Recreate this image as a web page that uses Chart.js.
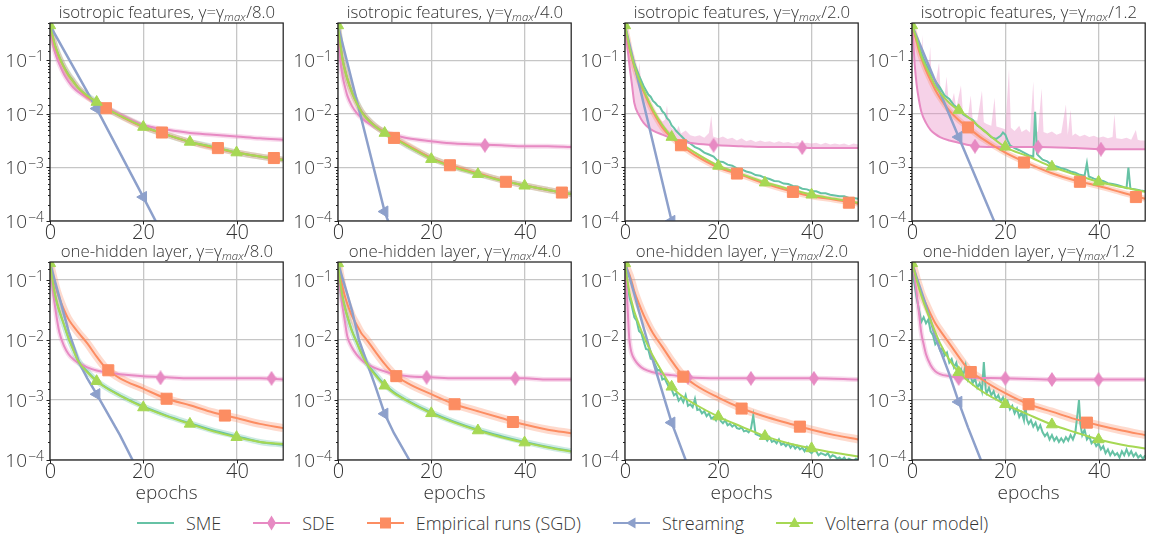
<!DOCTYPE html>
<html>
<head>
<meta charset="utf-8">
<script src="https://cdn.jsdelivr.net/npm/chart.js@4.4.1/dist/chart.umd.min.js"></script>
<style>
html, body { margin: 0; padding: 0; background: #fff; }
#fig { position: relative; width: 1154px; height: 538px; overflow: hidden; }
#fig canvas { position: absolute; }
#legend { position: absolute; left: 137px; top: 511px; height: 24px; display: flex; align-items: center;
  font: 300 18px "Open Sans", sans-serif; color: #333; white-space: nowrap; }
#legend .item { display: flex; align-items: center; margin-right: 32px; }
#legend svg { margin-right: 12px; }
</style>
</head>
<body>
<div id="fig">
  <div id="legend">
    <div class="item"><svg width="37" height="16"><line x1="0" y1="8" x2="37" y2="8" stroke="#66c2a5" stroke-width="2"/></svg><span>SME</span></div>
    <div class="item"><svg width="37" height="16"><line x1="0" y1="8" x2="37" y2="8" stroke="#e78ac3" stroke-width="2"/><polygon points="18.5,0.5 23,8 18.5,15.5 14,8" fill="#e78ac3"/></svg><span>SDE</span></div>
    <div class="item"><svg width="37" height="16"><line x1="0" y1="8" x2="37" y2="8" stroke="#fc8d62" stroke-width="2"/><rect x="13" y="2.5" width="11" height="11" fill="#fc8d62"/></svg><span>Empirical runs (SGD)</span></div>
    <div class="item"><svg width="37" height="16"><line x1="0" y1="8" x2="37" y2="8" stroke="#8da0cb" stroke-width="2"/><polygon points="13,8 22.5,2.5 22.5,13.5" fill="#8da0cb"/></svg><span>Streaming</span></div>
    <div class="item"><svg width="37" height="16"><line x1="0" y1="8" x2="37" y2="8" stroke="#a6d854" stroke-width="2"/><polygon points="18.5,2 24,12 13,12" fill="#a6d854"/></svg><span>Volterra (our model)</span></div>
  </div>
</div>
<script>
// ---------- data ----------
const EPOCHS = [0, 0.5, 1, 1.5, 2, 3, 4, 5, 6, 8, 10, 12, 15, 20, 25, 30, 35, 40, 45, 50];

// isotropic features, gamma = gamma_max / 8.0
const ISO8_VOLTERRA = [0.45,0.3,0.2,0.15,0.115,0.075,0.053,0.04,0.031,0.022,0.0167,0.0128,0.0093,0.0058,0.0041,0.003,0.0024,0.0019,0.0016,0.00138];
const ISO8_SGD      = [0.45,0.29,0.195,0.145,0.112,0.074,0.052,0.04,0.031,0.021,0.016,0.0127,0.0092,0.0057,0.0041,0.003,0.0023,0.0019,0.0016,0.0014];
const ISO8_SME      = [0.45,0.3,0.2,0.15,0.116,0.076,0.054,0.041,0.031,0.022,0.0166,0.0128,0.0093,0.0058,0.0041,0.003,0.0024,0.0019,0.0016,0.0014];
const ISO8_SDE      = [0.45,0.24,0.15,0.11,0.085,0.055,0.04,0.031,0.026,0.02,0.016,0.0133,0.0098,0.0062,0.0051,0.0044,0.0041,0.0038,0.0035,0.0033];
const ISO8_STREAM   = [[0,0.45],[10,0.0126],[20,0.00028],[25,0.00004]];
const ISO8_VOLTERRA_MARKS = [[0,0.45],[10,0.0167],[20,0.0057],[30,0.003],[40,0.0019]];
const ISO8_SGD_MARKS      = [[12,0.0128],[24,0.0045],[36,0.0023],[48,0.0015]];
const ISO8_STREAM_MARKS   = [[10,0.0126],[20,0.00028]];
const ISO8_SDE_MARKS      = [];

// isotropic features, gamma = gamma_max / 4.0
const ISO4_VOLTERRA = [0.45,0.2,0.1,0.065,0.045,0.025,0.016,0.011,0.0085,0.0058,0.0044,0.0035,0.0025,0.00145,0.001,0.00075,0.00057,0.00046,0.00038,0.00032];
const ISO4_SGD      = [0.45,0.2,0.1,0.065,0.045,0.025,0.016,0.0112,0.0086,0.0059,0.0045,0.0036,0.0026,0.0015,0.00104,0.00078,0.00058,0.00046,0.00038,0.00032];
const ISO4_SME      = [0.45,0.21,0.105,0.067,0.046,0.026,0.0165,0.0113,0.0087,0.0059,0.0045,0.0036,0.0025,0.0015,0.00102,0.00076,0.00058,0.00046,0.00038,0.00032];
const ISO4_SDE      = [0.45,0.1,0.05,0.032,0.022,0.014,0.0105,0.0085,0.0072,0.0057,0.0047,0.0041,0.0035,0.0031,0.0028,0.0027,0.0026,0.0025,0.0025,0.0024];
const ISO4_STREAM   = [[0,0.45],[10,0.00015],[12,0.00005]];
const ISO4_VOLTERRA_MARKS = [[0,0.45],[10,0.0044],[20,0.00143],[30,0.00075],[40,0.000455]];
const ISO4_SGD_MARKS      = [[12,0.00357],[24,0.0011],[36,0.00054],[48,0.00034]];
const ISO4_STREAM_MARKS   = [[10,0.00015]];
const ISO4_SDE_MARKS      = [[31.5,0.0026]];

// isotropic features, gamma = gamma_max / 2.0
const ISO2_VOLTERRA = [0.45,0.28,0.17,0.115,0.08,0.045,0.028,0.018,0.012,0.0062,0.0038,0.0028,0.0019,0.00108,0.00075,0.00053,0.0004,0.00031,0.00026,0.00022];
const ISO2_SGD      = [0.45,0.27,0.16,0.11,0.075,0.042,0.026,0.0165,0.011,0.0056,0.0036,0.0026,0.0017,0.001,0.00072,0.0005,0.00037,0.00029,0.00025,0.00021];
const ISO2_SDE      = [0.45,0.18,0.075,0.035,0.016,0.0095,0.0068,0.0056,0.0049,0.0041,0.0035,0.0031,0.0028,0.0026,0.0025,0.0024,0.0024,0.0023,0.0023,0.0023];
const ISO2_SME = [[0,0.45],[1,0.17],[2,0.088],[3,0.052],[4,0.033],[5,0.023],[5.5,0.021],[6,0.0175],[6.5,0.016],[7,0.0142],[7.5,0.0135],[8,0.0112],[8.5,0.0102],[9,0.0083],[9.5,0.0075],[10,0.0061],[10.5,0.0055],[11,0.0048],[12,0.0039],[13,0.0032],[14,0.0028],[15,0.0024],[16,0.0022],[17,0.0019],[18,0.00175],[19,0.0016],[20,0.0013],[21,0.00127],[22,0.00113],[23,0.00108],[24,0.00096],[25,0.00092],[26,0.00084],[27,0.0008],[28,0.00072],[29,0.0007],[30,0.00064],[31,0.00061],[32,0.00056],[33,0.00055],[34,0.0005],[35,0.00049],[36,0.00045],[37,0.00044],[38,0.0004],[39,0.00039],[40,0.00036],[41,0.00036],[42,0.00033],[43,0.00033],[44,0.00031],[45,0.0003],[46,0.00029],[47,0.00029],[48,0.00027],[49,0.00027],[50,0.00026]];
const ISO2_SDE_SPREAD = [[0,0.45],[1,0.16],[2,0.078],[2.8,0.05],[3.1,0.093],[3.4,0.042],[4,0.028],[5,0.018],[6,0.0125],[7,0.009],[8,0.0072],[8.6,0.0078],[9,0.0145],[9.4,0.0068],[10,0.0055],[11,0.0047],[11.5,0.006],[12,0.0043],[13,0.0049],[14,0.004],[15,0.0038],[16,0.004],[17,0.0036],[18,0.0044],[18.5,0.0095],[18.9,0.0038],[20,0.0035],[21,0.0038],[22,0.0034],[23,0.0036],[24,0.0032],[25,0.0035],[26,0.0031],[27,0.0033],[28,0.003],[29,0.0032],[30,0.003],[31,0.0031],[32,0.0029],[33,0.0031],[34,0.0029],[35,0.003],[36,0.0028],[37,0.003],[38,0.0028],[39,0.0029],[40,0.0028],[41,0.0029],[42,0.0027],[43,0.0029],[44,0.0027],[45,0.0028],[46,0.0027],[47,0.0028],[48,0.0026],[49,0.0028],[50,0.0027]];
const ISO2_STREAM   = [[0,0.45],[10,0.0001],[12,0.000018]];
const ISO2_VOLTERRA_MARKS = [[0,0.45],[10,0.0037],[20,0.00107],[30,0.00052],[40,0.00031]];
const ISO2_SGD_MARKS      = [[12,0.0026],[24,0.00077],[36,0.00035],[48,0.00022]];
const ISO2_STREAM_MARKS   = [[10,0.0001]];
const ISO2_SDE_MARKS      = [[19,0.0026],[38,0.00235]];

// isotropic features, gamma = gamma_max / 1.2
const ISO12_VOLTERRA = [0.45,0.34,0.25,0.17,0.12,0.075,0.05,0.033,0.025,0.016,0.0117,0.0088,0.0052,0.0024,0.0016,0.00103,0.00074,0.00054,0.00043,0.00035];
const ISO12_SGD      = [0.45,0.32,0.22,0.15,0.11,0.065,0.042,0.028,0.02,0.0115,0.0077,0.0056,0.0035,0.0019,0.00118,0.00078,0.00057,0.00045,0.00034,0.00026];
const ISO12_SDE = [[0,0.45],[0.3,0.2],[0.6,0.08],[1,0.035],[1.5,0.018],[2,0.011],[3,0.0068],[4,0.005],[5,0.0042],[6,0.0037],[8,0.0032],[10,0.0029],[13.5,0.0025],[20,0.0024],[27,0.0024],[35,0.0023],[40.5,0.0022],[50,0.0022]];
const ISO12_SME = [[0,0.45],[1,0.26],[2,0.135],[3,0.085],[4,0.058],[5,0.041],[6,0.031],[7,0.022],[8,0.019],[9,0.0145],[10,0.0125],[11,0.0098],[12,0.0086],[13,0.0078],[14,0.0061],[15,0.0053],[16,0.0045],[17,0.0037],[18,0.0034],[19,0.0039],[19.5,0.0045],[20,0.0041],[20.5,0.0032],[21,0.0026],[22,0.0023],[23,0.0021],[24,0.0019],[25,0.0017],[26,0.0016],[26.4,0.011],[26.8,0.0018],[27,0.0017],[28,0.0014],[29,0.0013],[30,0.0011],[31,0.00105],[32,0.00097],[33,0.00092],[34,0.00084],[35,0.0008],[36,0.00073],[37,0.0007],[37.5,0.0012],[37.9,0.00068],[39,0.00062],[40,0.00058],[41,0.00056],[42,0.00051],[43,0.00049],[44,0.00047],[45,0.00044],[46,0.00041],[46.4,0.001],[46.8,0.00042],[47,0.0004],[48,0.00039],[49,0.00037],[50,0.00036]];
const ISO12_SDE_SPREAD = [[0,0.45],[0.5,0.3],[1,0.2],[1.5,0.14],[2,0.1],[2.2,0.3],[2.5,0.09],[3,0.065],[3.5,0.06],[3.9,0.18],[4.2,0.05],[5,0.036],[5.8,0.09],[6.1,0.03],[7,0.022],[7.4,0.05],[7.8,0.02],[8.5,0.016],[9,0.025],[9.5,0.013],[10.5,0.034],[10.9,0.011],[11.5,0.01],[12,0.009],[12.6,0.022],[13,0.008],[14,0.0075],[15,0.027],[15.4,0.007],[16,0.0065],[17,0.006],[17.7,0.02],[18.1,0.0058],[19,0.0055],[20,0.0052],[20.8,0.07],[21.2,0.0055],[22,0.0048],[23,0.006],[23.5,0.0046],[24.5,0.0052],[25.3,0.0045],[26,0.04],[26.4,0.005],[27,0.0046],[27.8,0.03],[28.2,0.0046],[29,0.0043],[30,0.0047],[31,0.0041],[32,0.0044],[33,0.015],[33.4,0.0041],[34,0.012],[34.4,0.0039],[35,0.0043],[36,0.0038],[37,0.0041],[38,0.0037],[39,0.0039],[40,0.0036],[41,0.0038],[42,0.0035],[43,0.0037],[43.4,0.01],[43.8,0.0035],[45,0.0034],[46,0.0036],[47,0.0033],[48,0.005],[48.4,0.0033],[49,0.0032],[50,0.0032]];
const ISO12_STREAM   = [[0,0.45],[10,0.0037],[20,0.000032]];
const ISO12_VOLTERRA_MARKS = [[0,0.45],[10,0.0117],[20,0.00243],[30,0.00103],[40,0.00054]];
const ISO12_SGD_MARKS      = [[12,0.0056],[24,0.00124],[36,0.00054],[48,0.00028]];
const ISO12_STREAM_MARKS   = [[10,0.0037]];
const ISO12_SDE_MARKS      = [[13.5,0.0025],[27,0.0024],[40.5,0.0022]];

// one-hidden layer, gamma = gamma_max / 8.0
const ONE8_VOLTERRA = [0.19,0.1,0.06,0.041,0.03,0.018,0.0105,0.0068,0.0045,0.0029,0.00206,0.0016,0.00118,0.00076,0.00054,0.0004,0.0003,0.00024,0.0002,0.000185];
const ONE8_SME      = [0.19,0.1,0.061,0.042,0.031,0.018,0.0107,0.007,0.0046,0.003,0.0021,0.00162,0.0012,0.00078,0.00055,0.00041,0.00031,0.00025,0.0002,0.00018];
const ONE8_SGD      = [0.19,0.13,0.09,0.065,0.05,0.032,0.022,0.017,0.0135,0.0088,0.0053,0.0034,0.0023,0.00155,0.00105,0.00082,0.00062,0.0005,0.0004,0.00034];
const ONE8_SDE      = [0.19,0.08,0.04,0.022,0.0135,0.008,0.0058,0.0048,0.0042,0.0035,0.0031,0.0029,0.0027,0.0025,0.0024,0.0023,0.0023,0.0023,0.0023,0.0022];
const ONE8_STREAM   = [[0,0.19],[2,0.052],[4,0.014],[6.25,0.0042],[8,0.0023],[10,0.00125],[15,0.00026],[17.7,0.0001],[20,0.00005]];
const ONE8_VOLTERRA_MARKS = [[0,0.19],[10,0.00206],[20,0.00075],[30,0.0004],[40,0.00024]];
const ONE8_SGD_MARKS      = [[12.5,0.00313],[25,0.00105],[37.5,0.00055]];
const ONE8_STREAM_MARKS   = [[10,0.00125]];
const ONE8_SDE_MARKS      = [[23.7,0.00234],[47.5,0.0023]];

// one-hidden layer, gamma = gamma_max / 4.0
const ONE4_VOLTERRA = [0.19,0.09,0.05,0.034,0.025,0.014,0.0092,0.006,0.0042,0.0026,0.00173,0.0013,0.00095,0.0006,0.00042,0.00031,0.00024,0.000195,0.000162,0.000138];
const ONE4_SME      = [0.19,0.092,0.051,0.035,0.025,0.0143,0.0094,0.0061,0.0043,0.0027,0.0018,0.00135,0.00097,0.00062,0.00043,0.00032,0.00025,0.0002,0.000165,0.00014];
const ONE4_SGD      = [0.19,0.12,0.075,0.053,0.04,0.025,0.018,0.013,0.0105,0.0064,0.004,0.0027,0.0019,0.00125,0.00085,0.00065,0.0005,0.00039,0.00032,0.00028];
const ONE4_SDE      = [0.19,0.07,0.035,0.02,0.0115,0.0075,0.0057,0.0047,0.0041,0.0034,0.003,0.0027,0.0025,0.0024,0.0023,0.0023,0.0023,0.0023,0.0022,0.0022];
const ONE4_STREAM   = [[0,0.19],[1,0.105],[2,0.058],[3,0.031],[4.5,0.01],[6.25,0.0041],[8,0.0017],[10,0.00059],[12,0.00028],[15.3,0.0001],[17,0.000053]];
const ONE4_VOLTERRA_MARKS = [[0,0.19],[10,0.00173],[20,0.0006],[30,0.00031],[40,0.000195]];
const ONE4_SGD_MARKS      = [[12.5,0.0025],[25,0.00085],[37.5,0.00043]];
const ONE4_STREAM_MARKS   = [[10,0.00059]];
const ONE4_SDE_MARKS      = [[19,0.0024],[38,0.0023]];

// one-hidden layer, gamma = gamma_max / 2.0
const ONE2_VOLTERRA = [0.19,0.1,0.06,0.042,0.03,0.018,0.0115,0.0078,0.0054,0.0029,0.00166,0.0012,0.00085,0.00053,0.00036,0.00025,0.00019,0.000156,0.000132,0.000114];
const ONE2_SGD      = [0.19,0.15,0.12,0.09,0.065,0.04,0.026,0.018,0.013,0.0077,0.0045,0.0028,0.0018,0.0011,0.00073,0.00053,0.00041,0.00032,0.00026,0.00022];
const ONE2_SDE = [[0,0.19],[0.3,0.08],[0.6,0.03],[0.9,0.011],[1.2,0.0072],[1.5,0.0058],[2,0.0048],[3,0.0038],[4,0.0033],[6,0.0029],[8,0.0027],[10,0.0026],[13.5,0.0024],[20,0.0023],[27,0.0023],[40.5,0.0023],[50,0.0022]];
const ONE2_SME = [[0,0.19],[0.5,0.088],[1,0.05],[1.5,0.036],[2,0.024],[2.5,0.021],[3,0.0142],[3.5,0.013],[4,0.0096],[4.5,0.0071],[5,0.0069],[5.5,0.0049],[6,0.0048],[6.5,0.0038],[7,0.0031],[7.5,0.0032],[8,0.0022],[8.5,0.0023],[9,0.0019],[9.5,0.0016],[10,0.0015],[10.5,0.0012],[11,0.0013],[11.5,0.00098],[12,0.0011],[12.5,0.00092],[13,0.0012],[13.5,0.0008],[14,0.00085],[14.5,0.00076],[15,0.00105],[15.5,0.00068],[16,0.0007],[16.5,0.0006],[17,0.00065],[17.5,0.00054],[18,0.0006],[18.5,0.00049],[19,0.00052],[19.5,0.00046],[20,0.00062],[20.5,0.00045],[21,0.00041],[21.5,0.00046],[22,0.00038],[22.5,0.0004],[23,0.00036],[23.5,0.00039],[24,0.00034],[24.5,0.00033],[25,0.00035],[25.5,0.0003],[26,0.00031],[26.5,0.00029],[27,0.00033],[27.5,0.00055],[28,0.00027],[28.5,0.00026],[29,0.00025],[29.5,0.00023],[30,0.00024],[30.5,0.00021],[31,0.00024],[31.5,0.0002],[32,0.00021],[32.5,0.00019],[33,0.00022],[33.5,0.00018],[34,0.00019],[34.5,0.00017],[35,0.00019],[35.5,0.00016],[36,0.00018],[36.5,0.000155],[37,0.00017],[37.5,0.00015],[38,0.00016],[38.5,0.00014],[39,0.000165],[39.5,0.00014],[40,0.00013],[40.5,0.000145],[41,0.00014],[41.5,0.00012],[42,0.00013],[42.5,0.000125],[43,0.00012],[43.5,0.00013],[44,0.00011],[44.5,0.00012],[45,0.000115],[45.5,0.000105],[46,0.00011],[46.5,0.0001],[47,0.00011],[47.5,0.000098],[48,0.000105],[48.5,0.0001],[49,0.000095],[49.5,0.000105],[50,0.0001]];
const ONE2_STREAM   = [[0,0.19],[1,0.11],[2,0.058],[3,0.03],[5,0.0085],[6.5,0.0033],[10,0.00042],[13,0.0001],[15,0.00004]];
const ONE2_VOLTERRA_MARKS = [[0,0.19],[10,0.00166],[20,0.00053],[30,0.00025],[40,0.000156]];
const ONE2_SGD_MARKS      = [[12.5,0.00245],[25,0.00072],[37.5,0.00036]];
const ONE2_STREAM_MARKS   = [[10,0.00042]];
const ONE2_SDE_MARKS      = [[13.5,0.0024],[27,0.0023],[40.5,0.0023]];

// one-hidden layer, gamma = gamma_max / 1.2
const ONE12_VOLTERRA = [0.19,0.14,0.1,0.074,0.055,0.033,0.021,0.0135,0.0089,0.0047,0.0029,0.0021,0.0014,0.00085,0.00057,0.00039,0.00029,0.00022,0.00018,0.000156];
const ONE12_SGD      = [0.19,0.145,0.105,0.08,0.06,0.04,0.027,0.019,0.0145,0.0088,0.0053,0.0033,0.0022,0.0013,0.00085,0.00064,0.00048,0.00038,0.00031,0.00026];
const ONE12_SDE = [[0,0.19],[0.5,0.12],[1,0.06],[1.5,0.028],[2,0.013],[2.5,0.0085],[3,0.0058],[4,0.0038],[5,0.003],[6,0.0027],[8,0.0025],[10,0.0024],[20,0.0023],[30,0.0022],[40,0.0022],[50,0.0022]];
const ONE12_SME = [[0,0.19],[0.5,0.09],[1,0.05],[1.5,0.032],[2,0.02],[2.5,0.024],[3,0.019],[3.5,0.022],[4,0.014],[4.5,0.012],[5,0.0085],[5.5,0.0095],[6,0.0068],[6.5,0.0072],[7,0.0055],[7.5,0.0062],[8,0.0042],[8.5,0.0048],[9,0.0035],[9.5,0.0042],[10,0.0028],[10.5,0.0033],[11,0.0026],[11.5,0.0038],[12,0.0022],[12.5,0.0027],[13,0.0019],[13.5,0.0023],[14,0.0016],[14.5,0.0019],[15,0.0014],[15.4,0.0043],[15.8,0.0015],[16,0.0013],[16.5,0.0016],[17,0.0012],[17.5,0.0014],[18,0.00105],[18.5,0.0012],[19,0.00095],[19.5,0.0011],[20,0.0008],[20.5,0.00095],[21,0.0007],[21.5,0.0008],[22,0.0006],[22.5,0.00072],[23,0.00052],[23.5,0.00062],[24,0.00046],[24.3,0.0009],[24.6,0.00048],[25,0.0004],[25.5,0.00046],[26,0.00036],[26.5,0.00042],[27,0.00032],[27.5,0.00038],[28,0.00029],[28.5,0.00025],[29,0.00028],[29.5,0.00022],[30,0.00026],[30.5,0.00021],[31,0.00024],[31.5,0.0002],[32,0.00023],[32.5,0.0002],[33,0.00024],[33.5,0.00021],[34,0.00026],[34.5,0.00022],[35,0.00028],[35.5,0.0006],[35.8,0.001],[36.1,0.0004],[36.5,0.00026],[37,0.00032],[37.5,0.00022],[38,0.00025],[38.5,0.00019],[39,0.00021],[39.5,0.00017],[40,0.00019],[40.5,0.00015],[41,0.00017],[41.5,0.00013],[42,0.00015],[42.5,0.00012],[43,0.00014],[43.5,0.00012],[44,0.00013],[44.5,0.00011],[45,0.00014],[45.5,0.00012],[46,0.00015],[46.5,0.00012],[47,0.00014],[47.5,0.000115],[48,0.00013],[48.5,0.00011],[49,0.00012],[49.5,0.000105],[50,0.00012]];
const ONE12_STREAM   = [[0,0.19],[1,0.11],[2,0.065],[3,0.038],[4,0.021],[5,0.011],[6,0.007],[8,0.0027],[10,0.00093],[12,0.00035],[15,0.00009],[17,0.00003]];
const ONE12_VOLTERRA_MARKS = [[0,0.19],[10,0.0029],[20,0.00085],[30,0.00039],[40,0.00022]];
const ONE12_SGD_MARKS      = [[12.6,0.00293],[25,0.00085],[37.5,0.00042]];
const ONE12_STREAM_MARKS   = [[10,0.00093]];
const ONE12_SDE_MARKS      = [[10,0.0023],[20,0.0023],[30,0.0022],[40,0.0022]];

const ROW_TITLES = ['isotropic features', 'one-hidden layer'];
const GAMMA_DIV = ['8.0', '4.0', '2.0', '1.2'];
const X_TICKS = [0, 20, 40];
const Y_MAX = [0.5, 0.2];
const Y_MIN = 1e-4;

const PANELS = [
  {vol: ISO8_VOLTERRA, sgd: ISO8_SGD, sme: ISO8_SME, sde: ISO8_SDE, stream: ISO8_STREAM, spread: null, noisy: false,
   volM: ISO8_VOLTERRA_MARKS, sgdM: ISO8_SGD_MARKS, streamM: ISO8_STREAM_MARKS, sdeM: ISO8_SDE_MARKS},
  {vol: ISO4_VOLTERRA, sgd: ISO4_SGD, sme: ISO4_SME, sde: ISO4_SDE, stream: ISO4_STREAM, spread: null, noisy: false,
   volM: ISO4_VOLTERRA_MARKS, sgdM: ISO4_SGD_MARKS, streamM: ISO4_STREAM_MARKS, sdeM: ISO4_SDE_MARKS},
  {vol: ISO2_VOLTERRA, sgd: ISO2_SGD, sme: ISO2_SME, sde: ISO2_SDE, stream: ISO2_STREAM, spread: ISO2_SDE_SPREAD, noisy: true,
   volM: ISO2_VOLTERRA_MARKS, sgdM: ISO2_SGD_MARKS, streamM: ISO2_STREAM_MARKS, sdeM: ISO2_SDE_MARKS},
  {vol: ISO12_VOLTERRA, sgd: ISO12_SGD, sme: ISO12_SME, sde: ISO12_SDE, stream: ISO12_STREAM, spread: ISO12_SDE_SPREAD, noisy: true,
   volM: ISO12_VOLTERRA_MARKS, sgdM: ISO12_SGD_MARKS, streamM: ISO12_STREAM_MARKS, sdeM: ISO12_SDE_MARKS},
  {vol: ONE8_VOLTERRA, sgd: ONE8_SGD, sme: ONE8_SME, sde: ONE8_SDE, stream: ONE8_STREAM, spread: null, noisy: false,
   volM: ONE8_VOLTERRA_MARKS, sgdM: ONE8_SGD_MARKS, streamM: ONE8_STREAM_MARKS, sdeM: ONE8_SDE_MARKS},
  {vol: ONE4_VOLTERRA, sgd: ONE4_SGD, sme: ONE4_SME, sde: ONE4_SDE, stream: ONE4_STREAM, spread: null, noisy: false,
   volM: ONE4_VOLTERRA_MARKS, sgdM: ONE4_SGD_MARKS, streamM: ONE4_STREAM_MARKS, sdeM: ONE4_SDE_MARKS},
  {vol: ONE2_VOLTERRA, sgd: ONE2_SGD, sme: ONE2_SME, sde: ONE2_SDE, stream: ONE2_STREAM, spread: null, noisy: true,
   volM: ONE2_VOLTERRA_MARKS, sgdM: ONE2_SGD_MARKS, streamM: ONE2_STREAM_MARKS, sdeM: ONE2_SDE_MARKS},
  {vol: ONE12_VOLTERRA, sgd: ONE12_SGD, sme: ONE12_SME, sde: ONE12_SDE, stream: ONE12_STREAM, spread: null, noisy: true,
   volM: ONE12_VOLTERRA_MARKS, sgdM: ONE12_SGD_MARKS, streamM: ONE12_STREAM_MARKS, sdeM: ONE12_SDE_MARKS}
];

// ---------- layout / style ----------
const C = {sme: '#66c2a5', sde: '#e78ac3', sgd: '#fc8d62', stream: '#8da0cb', vol: '#a6d854'};
const GRID = '#c6c6c6';
const INK = '#333';
const PLOT_LEFT = [50, 338, 625, 912];
const PLOT_W = 240;
const PLOT_TOP = [23, 262];
const PLOT_BOTTOM = [221, 460];
const CANVAS_TOP = [0, 238];
const CANVAS_H = [242, 272];

function pts(arr) {
  if (!arr.length) return [];
  return Array.isArray(arr[0]) ? arr.map(p => ({x: p[0], y: p[1]})) : arr.map((v, i) => ({x: EPOCHS[i], y: v}));
}
const isDecade = v => Math.abs(Math.log10(v) - Math.round(Math.log10(v))) < 1e-6;

const DIAMOND = (() => {
  const c = document.createElement('canvas');
  c.width = 10; c.height = 15;
  const g = c.getContext('2d');
  g.fillStyle = C.sde;
  g.beginPath(); g.moveTo(5, 0); g.lineTo(10, 7.5); g.lineTo(5, 15); g.lineTo(0, 7.5); g.closePath(); g.fill();
  return c;
})();

function line(data, color, width, smooth) {
  return {data: pts(data), borderColor: color, borderWidth: width, pointRadius: 0, pointHoverRadius: 0,
    fill: false, tension: 0, cubicInterpolationMode: smooth ? 'monotone' : 'default'};
}
function marks(data, color, style, r, rot) {
  return {data: pts(data), showLine: false, pointStyle: style, pointRadius: r, pointHoverRadius: r,
    pointRotation: rot || 0, pointBackgroundColor: color, pointBorderColor: color, pointBorderWidth: 1};
}

const framePlugin = {
  id: 'frame',
  afterDraw(chart, args, opts) {
    const {ctx, chartArea: a, scales: {x, y}} = chart;
    ctx.save();
    ctx.fillStyle = INK;
    ctx.strokeStyle = '#222';
    ctx.lineWidth = 1;
    // y ticks and labels
    y.ticks.forEach(t => {
      const v = t.value;
      if (v < Y_MIN * 0.999 || v > y.max * 1.001) return;
      const py = Math.round(y.getPixelForValue(v)) + 0.5;
      const major = isDecade(v);
      ctx.beginPath(); ctx.moveTo(a.left, py); ctx.lineTo(a.left - (major ? 3.5 : 2), py); ctx.stroke();
      if (major) {
        const sup = '\u2212' + Math.abs(Math.round(Math.log10(v)));
        ctx.font = '300 14px "Open Sans"';
        const ws = ctx.measureText(sup).width;
        ctx.font = '300 19px "Open Sans"';
        const wb = ctx.measureText('10').width;
        const right = a.left - 6;
        ctx.textAlign = 'left'; ctx.textBaseline = 'alphabetic';
        ctx.fillText('10', right - ws - wb - 1, py + 6.5);
        ctx.font = '300 14px "Open Sans"';
        ctx.fillText(sup, right - ws, py);
      }
    });
    // x ticks and labels
    ctx.font = '300 20px "Open Sans"';
    ctx.textAlign = 'center'; ctx.textBaseline = 'alphabetic';
    X_TICKS.forEach(v => {
      const px = Math.round(x.getPixelForValue(v)) + 0.5;
      ctx.beginPath(); ctx.moveTo(px, a.bottom); ctx.lineTo(px, a.bottom + 3.5); ctx.stroke();
      ctx.fillText(String(v), px, a.bottom + 18);
    });
    // frame
    ctx.lineWidth = 1.25;
    ctx.strokeRect(a.left, a.top, a.right - a.left, a.bottom - a.top);
    // title with subscript
    const s1 = ROW_TITLES[opts.row] + ', \u03b3=\u03b3', s2 = 'max', s3 = '/' + opts.div;
    const f1 = '300 16.8px "Open Sans"', f2 = 'italic 300 11.5px "Open Sans"';
    ctx.font = f1; const w1 = ctx.measureText(s1).width, w3 = ctx.measureText(s3).width;
    ctx.font = f2; const w2 = ctx.measureText(s2).width;
    const x0 = (a.left + a.right) / 2 - (w1 + w2 + w3) / 2;
    const by = a.top - 5;
    ctx.textAlign = 'left';
    ctx.font = f1; ctx.fillText(s1, x0, by);
    ctx.font = f2; ctx.fillText(s2, x0 + w1, by + 3);
    ctx.font = f1; ctx.fillText(s3, x0 + w1 + w2 + 0.5, by);
    if (opts.row === 1) {
      ctx.font = '300 19px "Open Sans"';
      ctx.textAlign = 'center';
      ctx.fillText('epochs', (a.left + a.right) / 2, a.bottom + 39);
    }
    ctx.restore();
  }
};

const fig = document.getElementById('fig');
PANELS.forEach((p, i) => {
  const row = Math.floor(i / 4), col = i % 4;
  const cv = document.createElement('canvas');
  const w = 50 + PLOT_W + 2, h = CANVAS_H[row];
  cv.width = w; cv.height = h;
  cv.style.left = (PLOT_LEFT[col] - 50) + 'px';
  cv.style.top = CANVAS_TOP[row] + 'px';
  cv.style.width = w + 'px'; cv.style.height = h + 'px';
  fig.appendChild(cv);

  const ds = [];
  ds.push(marks(p.volM, C.vol, 'triangle', 6.5));
  ds.push(marks(p.streamM, C.stream, 'triangle', 6.5, -90));
  ds.push(marks(p.sgdM, C.sgd, 'rect', 7.8));
  ds.push(marks(p.sdeM, C.sde, DIAMOND, 5));
  ds.push(line(p.vol, C.vol, 2, true));
  ds.push(line(p.stream, C.stream, 2.5, false));
  ds.push(line(p.sgd, C.sgd, 2, true));
  const sdeIdx = ds.length;
  ds.push(line(p.sde, C.sde, 2, true));
  ds.push(line(p.sme, C.sme, 2, !p.noisy));
  ds.push(line(p.sgd, 'rgba(252,141,98,0.32)', row ? 8 : 6, true));
  if (!p.noisy) ds.push(line(p.sme, 'rgba(102,194,165,0.32)', 6, true));
  if (p.spread) {
    const band = line(p.spread, 'rgba(0,0,0,0)', 1, false);
    band.fill = sdeIdx;
    band.backgroundColor = 'rgba(231,138,195,0.38)';
    ds.push(band);
  } else {
    ds.push(line(p.sde, 'rgba(231,138,195,0.3)', 5, true));
  }

  new Chart(cv, {
    type: 'line',
    data: {datasets: ds},
    options: {
      responsive: false, animation: false, events: [],
      layout: {padding: {top: PLOT_TOP[row] - CANVAS_TOP[row], right: 2, left: 0, bottom: 0}},
      plugins: {legend: {display: false}, tooltip: {enabled: false}, frame: {row: row, div: GAMMA_DIV[col]}},
      scales: {
        x: {type: 'linear', min: 0, max: 50,
            ticks: {display: false, stepSize: 20, includeBounds: false},
            grid: {color: GRID, lineWidth: 1.3, drawTicks: false}, border: {display: false},
            afterFit: s => { s.height = CANVAS_TOP[row] + h - PLOT_BOTTOM[row]; }},
        y: {type: 'logarithmic', min: Y_MIN, max: Y_MAX[row],
            ticks: {display: false},
            grid: {color: c => (c.tick && isDecade(c.tick.value)) ? GRID : 'rgba(0,0,0,0)', lineWidth: 1.3, drawTicks: false},
            border: {display: false},
            afterFit: s => { s.width = 50; }}
      }
    },
    plugins: [framePlugin]
  });
});
</script>
</body>
</html>
